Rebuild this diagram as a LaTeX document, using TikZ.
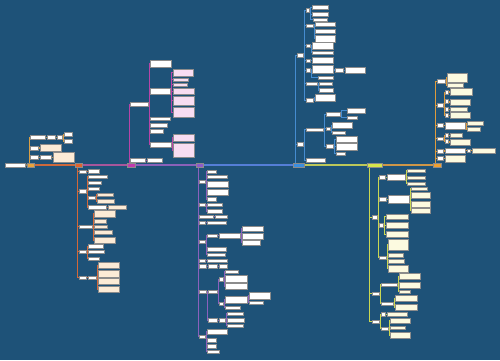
\documentclass[tikz,border=0pt]{standalone}
\usepackage{tikz}
\usetikzlibrary{positioning}
\definecolor{bgblue}{HTML}{1E5278}
\definecolor{cream}{HTML}{FCEBD6}
\definecolor{pinkish}{HTML}{F8DDF2}
\definecolor{lemon}{HTML}{FCFAE0}
\definecolor{hubA}{HTML}{E9A43C}
\definecolor{hubB}{HTML}{E0632B}
\definecolor{hubC}{HTML}{C23AAE}
\definecolor{hubD}{HTML}{8D5AC8}
\definecolor{hubE}{HTML}{3B8EDE}
\definecolor{hubF}{HTML}{D6E64A}
\definecolor{hubG}{HTML}{EFA030}
\pgfdeclarelayer{bg}
\pgfdeclarelayer{edges}
\pgfsetlayers{bg,edges,main}

\begin{document}
\begin{tikzpicture}[x=1pt,y=-1pt,
	span/.style n args={4}{at={({(#1+#3)/2},{(#2+#4)/2})},minimum width={(#3-#1)*1pt},minimum height={(#4-#2)*1pt}},
	wb/.style={rectangle,inner sep=0pt,outer sep=0pt,fill=white,draw=black!45,line width=0.25pt},
	cb/.style={wb,fill=cream},
	pb/.style={wb,fill=pinkish},
	yb/.style={wb,fill=lemon},
	sp/.style={to path={([xshift=2pt]\tikztostart.west) |- (\tikztotarget.west)}},
	sub/.style={to path={(\tikztostart.east) -- ++(1.2,0) |- (\tikztotarget.west)}},
	ln/.style={line width=0.6pt}]
	\useasboundingbox (0,0) rectangle (500,360);
	\begin{pgfonlayer}{bg}
		\fill[bgblue] (0,0) rectangle (500,360);
	\end{pgfonlayer}

	% root and hubs on the axis
	\node [wb,span={5}{163}{25}{167.5}] (r) {};
	\node [wb,fill=hubA,span={27}{163}{34}{167}] (n1) {};
	\node [wb,fill=hubB,span={75}{163}{82}{167}] (n2) {};
	\node [wb,fill=hubC,span={127}{163}{135}{167}] (n3) {};
	\node [wb,fill=hubD,span={196}{163}{203}{167}] (n4) {};
	\node [wb,fill=hubE,span={293}{163}{304}{167}] (n5) {};
	\node [wb,fill=hubF,span={367}{163}{382}{167}] (n6) {};
	\node [wb,fill=hubG,span={433}{163}{441}{167}] (n7) {};

	% branch 1
	\node [wb,span={30}{135}{45}{139}] (n11) {};
	\node [wb,span={47}{135}{55}{139}] (n111) {};
	\node [wb,span={57}{135}{62}{139}] (n1111) {};
	\node [wb,span={64}{132}{72}{136}] (n11111) {};
	\node [wb,span={64}{139}{72}{143}] (n11112) {};
	\node [wb,span={30}{146}{38}{150}] (n12) {};
	\node [cb,span={40}{144}{61}{151}] (n121) {};
	\node [wb,span={30}{155}{38}{159}] (n13) {};
	\node [wb,span={40}{155}{51}{159}] (n131) {};
	\node [cb,span={53}{152}{74}{162}] (n1311) {};

	% branch 2
	\node [wb,span={79}{170}{86}{173}] (n21) {};
	\node [wb,span={88}{169}{99}{173}] (n211) {};
	\node [wb,span={79}{189.5}{86}{193}] (n22) {};
	\node [wb,span={88}{175}{107}{178}] (n221) {};
	\node [wb,span={88}{181}{101}{184}] (n222) {};
	\node [wb,span={88}{187}{99}{190}] (n223) {};
	\node [wb,span={88}{196}{95}{199}] (n224) {};
	\node [cb,span={97}{193}{113}{196}] (n2241) {};
	\node [cb,span={97}{199}{114}{203}] (n2242) {};
	\node [wb,span={88}{205}{106}{209}] (n225) {};
	\node [cb,span={108}{205}{126}{209}] (n2251) {};
	\node [wb,span={79}{225}{92}{228}] (n23) {};
	\node [cb,span={94}{210}{115}{217}] (n231) {};
	\node [cb,span={94}{219}{106}{223}] (n232) {};
	\node [cb,span={94}{225}{107}{228}] (n233) {};
	\node [cb,span={94}{230}{112}{234}] (n234) {};
	\node [cb,span={94}{237}{115}{243}] (n235) {};
	\node [wb,span={79}{250}{86}{253}] (n24) {};
	\node [wb,span={88}{244}{103}{248}] (n241) {};
	\node [wb,span={88}{250}{104}{253}] (n242) {};
	\node [wb,span={88}{257}{99}{260}] (n243) {};
	\node [wb,span={79}{276}{86}{279}] (n25) {};
	\node [wb,span={88}{276}{96}{279}] (n251) {};
	\node [cb,span={98}{262}{119}{268}] (n2511) {};
	\node [cb,span={98}{270}{119}{277}] (n2512) {};
	\node [cb,span={98}{278}{119}{284}] (n2513) {};
	\node [cb,span={98}{286}{119}{292}] (n2514) {};

	% branch 3
	\node [wb,span={130}{102}{148}{106}] (n31) {};
	\node [wb,span={150}{60}{171}{67}] (n311) {};
	\node [wb,span={150}{88}{170}{94}] (n312) {};
	\node [pb,span={173}{69}{193}{76}] (n3121) {};
	\node [pb,span={173}{78}{188}{81}] (n3122) {};
	\node [pb,span={173}{83}{187}{86}] (n3123) {};
	\node [pb,span={173}{88}{194}{94}] (n3124) {};
	\node [pb,span={173}{96}{194}{105}] (n3125) {};
	\node [pb,span={173}{107}{194}{117}] (n3126) {};
	\node [wb,span={150}{117}{170}{120}] (n313) {};
	\node [wb,span={150}{123}{167}{127}] (n314) {};
	\node [wb,span={150}{129}{163}{133}] (n315) {};
	\node [wb,span={150}{142}{171}{147}] (n316) {};
	\node [pb,span={173}{134}{194}{141}] (n3161) {};
	\node [pb,span={173}{143}{194}{157}] (n3162) {};
	\node [wb,span={130}{158}{145}{162}] (n32) {};
	\node [wb,span={147}{158}{162}{162}] (n321) {};

	% branch 4
	\node [wb,span={199}{180}{205}{183}] (n41) {};
	\node [wb,span={207}{170}{216}{173}] (n411) {};
	\node [wb,span={207}{175}{227}{178}] (n412) {};
	\node [wb,span={207}{181}{228}{187}] (n413) {};
	\node [wb,span={207}{189}{228}{195}] (n414) {};
	\node [wb,span={207}{197}{216}{201}] (n415) {};
	\node [wb,span={199}{203}{205}{206}] (n42) {};
	\node [wb,span={207}{203}{222}{206}] (n421) {};
	\node [wb,span={207}{209}{222}{213}] (n422) {};
	\node [wb,span={199}{215}{213}{218}] (n43) {};
	\node [wb,span={215}{215}{227}{218}] (n431) {};
	\node [wb,span={199}{221}{205}{224}] (n44) {};
	\node [wb,span={207}{221}{226}{224}] (n441) {};
	\node [wb,span={199}{240}{205}{243}] (n45) {};
	\node [wb,span={207}{234}{217}{237}] (n451) {};
	\node [wb,span={219}{233}{240}{238}] (n4511) {};
	\node [wb,span={242}{226}{263}{231}] (n45111) {};
	\node [wb,span={242}{233}{263}{239}] (n45112) {};
	\node [wb,span={242}{240}{260}{245}] (n45113) {};
	\node [wb,span={207}{247}{226}{251}] (n452) {};
	\node [wb,span={207}{253}{225}{256}] (n453) {};
	\node [wb,span={199}{259}{205}{262}] (n46) {};
	\node [wb,span={207}{259}{227}{262}] (n461) {};
	\node [wb,span={199}{264}{206}{268}] (n47) {};
	\node [wb,span={208}{264}{217}{268}] (n471) {};
	\node [wb,span={219}{264}{227}{268}] (n4711) {};
	\node [wb,span={199}{290}{206}{293}] (n48) {};
	\node [wb,span={208}{290}{217}{293}] (n481) {};
	\node [wb,span={219}{277}{223}{281}] (n4811) {};
	\node [wb,span={225}{270}{238}{273}] (n48111) {};
	\node [wb,span={225}{275}{247}{282}] (n48112) {};
	\node [wb,span={225}{283}{247}{289}] (n48113) {};
	\node [wb,span={219}{302}{223}{305}] (n4812) {};
	\node [wb,span={225}{296}{247}{303}] (n48121) {};
	\node [wb,span={249}{292}{270}{299}] (n481211) {};
	\node [wb,span={249}{301}{263}{304}] (n481212) {};
	\node [wb,span={225}{306}{240}{309}] (n48122) {};
	\node [wb,span={208}{318}{217}{322}] (n482) {};
	\node [wb,span={219}{318}{225}{322}] (n4821) {};
	\node [wb,span={227}{312}{243}{315}] (n48211) {};
	\node [wb,span={227}{318}{244}{322}] (n48212) {};
	\node [wb,span={227}{324}{243}{327}] (n48213) {};
	\node [wb,span={199}{335}{205}{338}] (n49) {};
	\node [wb,span={207}{329}{227}{334}] (n491) {};
	\node [wb,span={207}{338}{216}{342}] (n492) {};
	\node [wb,span={207}{344}{216}{348}] (n493) {};
	\node [wb,span={207}{350}{219}{353}] (n494) {};

	% branch 5
	\node [wb,span={297}{53}{303}{57}] (n51) {};
	\node [wb,span={306}{8}{309}{12}] (n511) {};
	\node [wb,span={312}{5}{328}{9}] (n5111) {};
	\node [wb,span={312}{12}{328}{16}] (n5112) {};
	\node [wb,span={313}{18}{327}{21}] (n5113) {};
	\node [wb,span={306}{24}{313}{27}] (n512) {};
	\node [wb,span={315}{22}{335}{26}] (n5121) {};
	\node [wb,span={315}{29}{335}{33}] (n5122) {};
	\node [wb,span={315}{35}{335}{42}] (n5123) {};
	\node [wb,span={306}{44}{310}{47}] (n513) {};
	\node [wb,span={312}{42}{333}{49}] (n5131) {};
	\node [wb,span={312}{51}{333}{54}] (n5132) {};
	\node [wb,span={306}{59}{310}{62}] (n514) {};
	\node [wb,span={312}{57}{333}{63}] (n5141) {};
	\node [wb,span={306}{68}{310}{72}] (n515) {};
	\node [wb,span={312}{65}{333}{73}] (n5151) {};
	\node [wb,span={335}{68}{343}{72}] (n51511) {};
	\node [wb,span={345}{67}{365}{73}] (n515111) {};
	\node [wb,span={318}{76}{333}{79}] (n5152) {};
	\node [wb,span={306}{82}{317}{85}] (n516) {};
	\node [wb,span={319}{82}{332}{85}] (n5161) {};
	\node [wb,span={319}{88}{333}{92}] (n5162) {};
	\node [wb,span={306}{98}{313}{102}] (n517) {};
	\node [wb,span={315}{94}{335}{101}] (n5171) {};
	\node [wb,span={297}{142}{303}{146}] (n52) {};
	\node [wb,span={306}{128}{323}{131}] (n521) {};
	\node [wb,span={326}{112}{340}{116}] (n5211) {};
	\node [wb,span={347}{108}{365}{113}] (n52111) {};
	\node [wb,span={347}{116}{357}{119}] (n52112) {};
	\node [wb,span={326}{127}{330}{130}] (n5212) {};
	\node [wb,span={332}{122}{352}{128}] (n52121) {};
	\node [wb,span={332}{131}{345}{134}] (n52122) {};
	\node [wb,span={326}{144}{333}{148}] (n5213) {};
	\node [wb,span={336}{136}{357}{142}] (n52131) {};
	\node [wb,span={336}{143}{357}{150}] (n52132) {};
	\node [wb,span={336}{152}{345}{155}] (n52133) {};
	\node [wb,span={306}{158}{325}{162}] (n522) {};

	% branch 6
	\node [wb,span={372}{215}{377}{219}] (n61) {};
	\node [wb,span={379.5}{175}{385}{179}] (n611) {};
	\node [wb,span={387}{174}{405}{180}] (n6111) {};
	\node [yb,span={407}{169}{425}{172}] (n61111) {};
	\node [yb,span={407}{176}{425}{179}] (n61112) {};
	\node [yb,span={407}{182}{425}{185}] (n61113) {};
	\node [wb,span={379.5}{197}{386}{201}] (n612) {};
	\node [wb,span={388}{195}{409}{203}] (n6121) {};
	\node [yb,span={411}{187}{427}{190}] (n61211) {};
	\node [yb,span={411}{192}{430}{198}] (n61212) {};
	\node [yb,span={411}{201}{430}{207}] (n61213) {};
	\node [yb,span={411}{208}{430}{213}] (n61214) {};
	\node [wb,span={379.5}{223}{383}{227}] (n613) {};
	\node [yb,span={386}{214}{408}{219}] (n6131) {};
	\node [yb,span={386}{222}{408}{228}] (n6132) {};
	\node [yb,span={386}{231}{408}{237}] (n6133) {};
	\node [wb,span={379.5}{256}{386}{259}] (n614) {};
	\node [yb,span={388}{239}{408}{250}] (n6141) {};
	\node [yb,span={388}{253}{403}{257}] (n6142) {};
	\node [yb,span={388}{259}{404}{263}] (n6143) {};
	\node [yb,span={388}{265}{408}{272}] (n6144) {};
	\node [wb,span={372}{292}{379}{295}] (n62) {};
	\node [wb,span={381}{283}{397}{286}] (n621) {};
	\node [yb,span={399}{273}{420}{279}] (n6211) {};
	\node [yb,span={399}{282}{420}{288}] (n6212) {};
	\node [yb,span={399}{290}{410}{293}] (n6213) {};
	\node [wb,span={381}{302}{393}{305}] (n622) {};
	\node [yb,span={395}{295}{417}{301}] (n6221) {};
	\node [yb,span={395}{304}{417}{310}] (n6222) {};
	\node [wb,span={372}{320}{379}{323}] (n63) {};
	\node [wb,span={381}{312}{385}{316}] (n631) {};
	\node [yb,span={387}{312}{407}{316}] (n6311) {};
	\node [wb,span={381}{327}{388}{330}] (n632) {};
	\node [yb,span={390}{318}{410}{323}] (n6321) {};
	\node [yb,span={390}{326}{405}{329}] (n6322) {};
	\node [yb,span={390}{332}{410}{338}] (n6323) {};

	% branch 7
	\node [wb,span={437}{79}{445}{83}] (n71) {};
	\node [yb,span={447}{73}{467}{82}] (n711) {};
	\node [yb,span={447}{83}{463}{87}] (n712) {};
	\node [wb,span={437}{103}{443}{107}] (n72) {};
	\node [wb,span={445}{90}{448}{94}] (n721) {};
	\node [yb,span={450}{88}{472}{95}] (n7211) {};
	\node [wb,span={445}{99.5}{448}{103}] (n722) {};
	\node [yb,span={450}{99}{470}{105}] (n7221) {};
	\node [wb,span={445}{107}{448}{111}] (n723) {};
	\node [yb,span={450}{107}{467}{111}] (n7231) {};
	\node [wb,span={445}{113}{448}{117}] (n724) {};
	\node [yb,span={450}{112}{470}{118}] (n7241) {};
	\node [wb,span={437}{123}{443}{127}] (n73) {};
	\node [wb,span={445}{122}{465}{129}] (n731) {};
	\node [yb,span={467}{121}{483}{125}] (n7311) {};
	\node [yb,span={467}{127}{480}{131}] (n7312) {};
	\node [wb,span={437}{137}{443}{140}] (n74) {};
	\node [wb,span={445}{133}{448}{137}] (n741) {};
	\node [yb,span={450}{133}{462}{137}] (n7411) {};
	\node [wb,span={445}{139}{448}{143}] (n742) {};
	\node [yb,span={450}{139}{470}{145}] (n7421) {};
	\node [wb,span={437}{149}{443}{153}] (n75) {};
	\node [wb,span={445}{148}{465}{153}] (n751) {};
	\node [wb,span={467}{149}{470}{152}] (n7511) {};
	\node [yb,span={472}{148}{495}{153}] (n75111) {};
	\node [wb,span={437}{156}{443}{160}] (n76) {};
	\node [yb,span={445}{155}{465}{162}] (n761) {};

	\begin{pgfonlayer}{edges}
	% main axis
	\path[line width=1.2pt]
	(r) edge[draw=hubA!80!gray] (n1)
	(n1) edge[draw=hubB!80!gray] (n2)
	(n2) edge[draw=hubC!60!gray] (n3)
	(n3) edge[draw=hubD!80!gray] (n4)
	(n4) edge[draw=hubE!70!hubD] (n5)
	(n5) edge[draw=hubF!70!gray] (n6)
	(n6) edge[draw=hubG!70!gray] (n7);

	\path[ln,draw=hubA!85!gray]
	(n1) edge[sp] (n11) (n1) edge[sp] (n12) (n1) edge[sp] (n13)
	(n11) edge[sub] (n111) (n111) edge[sub] (n1111)
	(n1111) edge[sub] (n11111) (n1111) edge[sub] (n11112)
	(n12) edge[sub] (n121) (n13) edge[sub] (n131) (n131) edge[sub] (n1311);

	\path[ln,draw=hubB!85!gray]
	(n2) edge[sp] (n21) (n2) edge[sp] (n22) (n2) edge[sp] (n23)
	(n2) edge[sp] (n24) (n2) edge[sp] (n25)
	(n21) edge[sub] (n211)
	(n22) edge[sub] (n221) (n22) edge[sub] (n222) (n22) edge[sub] (n223)
	(n22) edge[sub] (n224) (n22) edge[sub] (n225)
	(n224) edge[sub] (n2241) (n224) edge[sub] (n2242) (n225) edge[sub] (n2251)
	(n23) edge[sub] (n231) (n23) edge[sub] (n232) (n23) edge[sub] (n233)
	(n23) edge[sub] (n234) (n23) edge[sub] (n235)
	(n24) edge[sub] (n241) (n24) edge[sub] (n242) (n24) edge[sub] (n243)
	(n25) edge[sub] (n251)
	(n251) edge[sub] (n2511) (n251) edge[sub] (n2512)
	(n251) edge[sub] (n2513) (n251) edge[sub] (n2514);

	\path[ln,draw=hubC!85!gray]
	(n3) edge[sp] (n31) (n3) edge[sp] (n32)
	(n31) edge[sub] (n311) (n31) edge[sub] (n312) (n31) edge[sub] (n313)
	(n31) edge[sub] (n314) (n31) edge[sub] (n315) (n31) edge[sub] (n316)
	(n312) edge[sub] (n3121) (n312) edge[sub] (n3122) (n312) edge[sub] (n3123)
	(n312) edge[sub] (n3124) (n312) edge[sub] (n3125) (n312) edge[sub] (n3126)
	(n316) edge[sub] (n3161) (n316) edge[sub] (n3162)
	(n32) edge[sub] (n321);

	\path[ln,draw=hubD!85!gray]
	(n4) edge[sp] (n41) (n4) edge[sp] (n42) (n4) edge[sp] (n43)
	(n4) edge[sp] (n44) (n4) edge[sp] (n45) (n4) edge[sp] (n46)
	(n4) edge[sp] (n47) (n4) edge[sp] (n48) (n4) edge[sp] (n49)
	(n41) edge[sub] (n411) (n41) edge[sub] (n412) (n41) edge[sub] (n413)
	(n41) edge[sub] (n414) (n41) edge[sub] (n415)
	(n42) edge[sub] (n421) (n42) edge[sub] (n422)
	(n43) edge[sub] (n431) (n44) edge[sub] (n441)
	(n45) edge[sub] (n451) (n45) edge[sub] (n452) (n45) edge[sub] (n453)
	(n451) edge[sub] (n4511)
	(n4511) edge[sub] (n45111) (n4511) edge[sub] (n45112) (n4511) edge[sub] (n45113)
	(n46) edge[sub] (n461) (n47) edge[sub] (n471) (n471) edge[sub] (n4711)
	(n48) edge[sub] (n481) (n48) edge[sub] (n482)
	(n481) edge[sub] (n4811) (n481) edge[sub] (n4812)
	(n4811) edge[sub] (n48111) (n4811) edge[sub] (n48112) (n4811) edge[sub] (n48113)
	(n4812) edge[sub] (n48121) (n4812) edge[sub] (n48122)
	(n48121) edge[sub] (n481211) (n48121) edge[sub] (n481212)
	(n482) edge[sub] (n4821)
	(n4821) edge[sub] (n48211) (n4821) edge[sub] (n48212) (n4821) edge[sub] (n48213)
	(n49) edge[sub] (n491) (n49) edge[sub] (n492)
	(n49) edge[sub] (n493) (n49) edge[sub] (n494);

	\path[ln,draw=hubE!85!gray]
	(n5) edge[sp] (n51) (n5) edge[sp] (n52)
	(n51) edge[sub] (n511) (n51) edge[sub] (n512) (n51) edge[sub] (n513)
	(n51) edge[sub] (n514) (n51) edge[sub] (n515) (n51) edge[sub] (n516)
	(n51) edge[sub] (n517)
	(n511) edge[sub] (n5111) (n511) edge[sub] (n5112) (n511) edge[sub] (n5113)
	(n512) edge[sub] (n5121) (n512) edge[sub] (n5122) (n512) edge[sub] (n5123)
	(n513) edge[sub] (n5131) (n513) edge[sub] (n5132)
	(n514) edge[sub] (n5141)
	(n515) edge[sub] (n5151) (n515) edge[sub] (n5152)
	(n5151) edge[sub] (n51511) (n51511) edge[sub] (n515111)
	(n516) edge[sub] (n5161) (n516) edge[sub] (n5162)
	(n517) edge[sub] (n5171)
	(n52) edge[sub] (n521) (n52) edge[sub] (n522)
	(n521) edge[sub] (n5211) (n521) edge[sub] (n5212) (n521) edge[sub] (n5213)
	(n5211) edge[sub] (n52111) (n5211) edge[sub] (n52112)
	(n5212) edge[sub] (n52121) (n5212) edge[sub] (n52122)
	(n5213) edge[sub] (n52131) (n5213) edge[sub] (n52132) (n5213) edge[sub] (n52133);

	\path[ln,draw=hubF!85!gray]
	(n6) edge[sp] (n61) (n6) edge[sp] (n62) (n6) edge[sp] (n63)
	(n61) edge[sub] (n611) (n61) edge[sub] (n612) (n61) edge[sub] (n613)
	(n61) edge[sub] (n614)
	(n611) edge[sub] (n6111)
	(n6111) edge[sub] (n61111) (n6111) edge[sub] (n61112) (n6111) edge[sub] (n61113)
	(n612) edge[sub] (n6121)
	(n6121) edge[sub] (n61211) (n6121) edge[sub] (n61212)
	(n6121) edge[sub] (n61213) (n6121) edge[sub] (n61214)
	(n613) edge[sub] (n6131) (n613) edge[sub] (n6132) (n613) edge[sub] (n6133)
	(n614) edge[sub] (n6141) (n614) edge[sub] (n6142)
	(n614) edge[sub] (n6143) (n614) edge[sub] (n6144)
	(n62) edge[sub] (n621) (n62) edge[sub] (n622)
	(n621) edge[sub] (n6211) (n621) edge[sub] (n6212) (n621) edge[sub] (n6213)
	(n622) edge[sub] (n6221) (n622) edge[sub] (n6222)
	(n63) edge[sub] (n631) (n63) edge[sub] (n632)
	(n631) edge[sub] (n6311)
	(n632) edge[sub] (n6321) (n632) edge[sub] (n6322) (n632) edge[sub] (n6323);

	\path[ln,draw=hubG!85!gray]
	(n7) edge[sp] (n71) (n7) edge[sp] (n72) (n7) edge[sp] (n73)
	(n7) edge[sp] (n74) (n7) edge[sp] (n75) (n7) edge[sp] (n76)
	(n71) edge[sub] (n711) (n71) edge[sub] (n712)
	(n72) edge[sub] (n721) (n72) edge[sub] (n722) (n72) edge[sub] (n723)
	(n72) edge[sub] (n724)
	(n721) edge[sub] (n7211) (n722) edge[sub] (n7221)
	(n723) edge[sub] (n7231) (n724) edge[sub] (n7241)
	(n73) edge[sub] (n731) (n731) edge[sub] (n7311) (n731) edge[sub] (n7312)
	(n74) edge[sub] (n741) (n74) edge[sub] (n742)
	(n741) edge[sub] (n7411) (n742) edge[sub] (n7421)
	(n75) edge[sub] (n751) (n751) edge[sub] (n7511) (n7511) edge[sub] (n75111)
	(n76) edge[sub] (n761);
	\end{pgfonlayer}
\end{tikzpicture}
\end{document}
